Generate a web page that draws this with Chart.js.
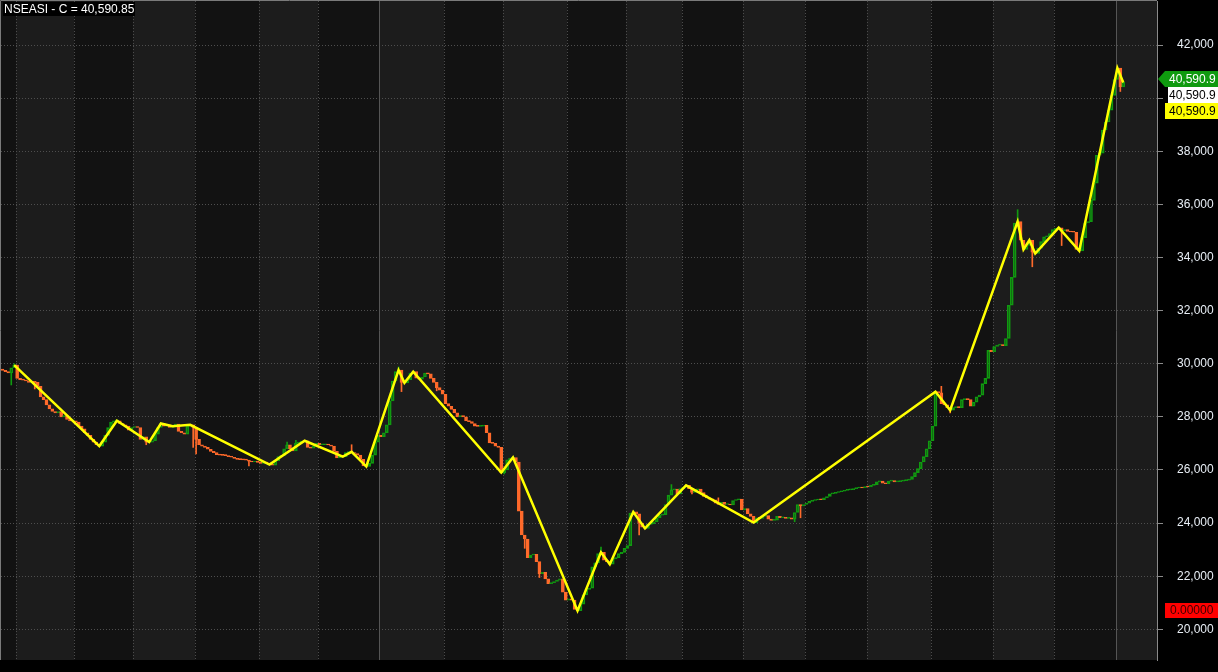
<!DOCTYPE html>
<html>
<head>
<meta charset="utf-8">
<script src="https://cdn.jsdelivr.net/npm/chart.js@4.4.1/dist/chart.umd.min.js"></script>
<style>
  html, body { margin: 0; padding: 0; background: #000; }
</style>
</head>
<body>
<canvas id="graficoNSEASI" width="1218" height="672"></canvas>
<script>
const symbolTitle = 'NSEASI - C = 40,590.85';
const lastPriceLabel = '40,590.9';
const indicatorLabel = '0.00000';

const firstOpen = 29800;
// daily closes, one row = 10 sessions
const closes = [
  29750, 29700, 29650, 29850, 29950, 29450, 29400, 29380, 29350, 29300,
  29320, 29300, 29150, 28750, 28650, 28450, 28300, 28200, 28150, 28200,
  28000, 28050, 27900, 27850, 27850, 27800, 27650, 27550, 27400, 27300,
  27150, 27050, 26950, 26900, 27050, 27300, 27600, 27800, 27850, 27850,
  27750, 27700, 27650, 27500, 27600, 27620, 27600, 27150, 27250, 27050,
  27050, 27100, 27350, 27600, 27750, 27650, 27700, 27600, 27650, 27730,
  27450, 27400, 27350, 27650, 27700, 27600, 27150, 26950, 26900, 26850,
  26780, 26700, 26650, 26580, 26560, 26550, 26540, 26500, 26480, 26430,
  26400, 26390, 26380, 26370, 26330, 26300, 26330, 26280, 26250, 26300,
  26260, 26200, 26180, 26350, 26500, 26550, 26800, 26950, 26800, 26720,
  27000, 27050, 27080, 27100, 26850, 26820, 26900, 27000, 26950, 26950,
  26960, 26940, 26900, 26700, 26450, 26550, 26500, 26650, 26680, 26650,
  26620, 26560, 26400, 26150, 26130, 26250, 26560, 27050, 27300, 27250,
  27400, 27700, 28600, 29350, 29700, 29760, 29300, 29280, 29400, 29650,
  29700, 29460, 29420, 29500, 29650, 29620, 29450, 29300, 29100, 29000,
  28850, 28500, 28400, 28280, 28150, 28000, 28050, 28000, 27850, 27820,
  27750, 27650, 27640, 27650, 27680, 27400, 27020, 27000, 26900, 26850,
  25900, 26000, 26380, 26450, 26470, 26300, 24450, 23550, 23400, 22700,
  22800, 22820, 22550, 22100, 22150, 21900, 21720, 21760, 21800, 21850,
  21900, 21400, 21100, 21150, 21100, 20750, 20700, 20950, 21300, 21500,
  21550, 22350, 22500, 22850, 22900, 22600, 22550, 22450, 22650, 22700,
  22850, 22900, 23050, 23150, 24380, 24420, 24350, 24000, 23850, 23800,
  23950, 23980, 24050, 24200, 24300, 24320, 24700, 25050, 25250, 25280,
  25100, 25300, 25350, 25420, 25300, 25150, 25250, 25280, 25150, 25000,
  24950, 24900, 24880, 24750, 24700, 24780, 24700, 24720, 24680, 24850,
  24880, 24900, 24500, 24550, 24350, 24250, 24020, 24200, 24180, 24250,
  24280, 24150, 24100, 24110, 24250, 24200, 24220, 24180, 24200, 24150,
  24400, 24700, 24650, 24700, 24750, 24820, 24850, 24870, 24900, 24880,
  24950, 25000, 25100, 25120, 25150, 25180, 25200, 25230, 25250, 25260,
  25300, 25320, 25350, 25320, 25370, 25360, 25420, 25450, 25550, 25580,
  25500, 25480, 25580, 25600, 25550, 25560, 25580, 25600, 25620, 25640,
  25750, 25900, 26050, 26300, 26500, 26800, 27100, 27650, 28950, 28900,
  28500, 28450, 28350, 28250, 28350, 28380, 28350, 28650, 28680, 28650,
  28400, 28550, 28750, 28820, 29250, 29450, 30500, 30450, 30650, 30700,
  30720, 30680, 30950, 32200, 33250, 35300, 35350, 34650, 34300, 34450,
  34650, 34200, 34150, 34350, 34600, 34780, 34820, 34900, 35050, 35100,
  35120, 35000, 35050, 34980, 34960, 34950, 34300, 34250, 34750, 35300,
  35350, 36150, 36800, 37850, 37930, 38800, 39100, 39550, 40100, 40700,
  41130, 40420, 40590.85
];

// sessions with a visible shadow beyond the body
const wickHighs = { 4: 30000, 97: 27050, 100: 27120, 119: 26950, 135: 29880, 204: 23100, 228: 25450, 240: 25050, 244: 24950, 320: 29150, 346: 35800 };
const wickLows = { 3: 29200, 11: 29050, 49: 26950, 65: 26850, 66: 26600, 84: 26150, 136: 28950, 148: 28980, 171: 25850, 178: 23050, 183: 21950, 217: 23550, 235: 25100, 270: 24050, 272: 24200, 323: 28150, 351: 33650, 361: 34450, 381: 40250 };

// zigzag pivots: [session, price]
const zigzagPivots = [
  [4, 29950], [33, 26900], [39, 27850], [50, 27050], [54, 27750], [58, 27650], [64, 27700],
  [91, 26200], [103, 27100], [116, 26500], [119, 26680], [124, 26130], [135, 29760], [137, 29280],
  [140, 29700], [170, 25900], [174, 26470], [196, 20700], [204, 22900], [207, 22450], [215, 24420],
  [219, 23800], [233, 25420], [256, 24020], [318, 28950], [323, 28250], [346, 35350], [348, 34300],
  [350, 34650], [352, 34150], [360, 35120], [367, 34250], [380, 41130], [382, 40590.85]
];

const monthStarts = [5, 25, 45, 66, 88, 108, 129, 151, 171, 193, 213, 232, 253, 274, 295, 317, 338, 359, 380];
const yearStarts = [129, 380];
const yTicks = [20000, 22000, 24000, 26000, 28000, 30000, 32000, 34000, 36000, 38000, 40000, 42000];
const emptySlots = 11;

const verde = '#109a10';
const laranja = '#ff6a2b';

window.onload = function () {

    const canvas = document.getElementById('graficoNSEASI');

    const opens = closes.map((c, i) => i === 0 ? firstOpen : closes[i - 1]);
    const labels = closes.map((_, i) => i);
    for (let k = 0; k < emptySlots; k++) labels.push(closes.length + k);

    const up = closes.map((c, i) => c >= opens[i]);
    const cores = up.map(u => u ? verde : laranja);
    const corpos = closes.map((c, i) => [opens[i], c]);
    const sombrasAltas = closes.map((c, i) => wickHighs[i] !== undefined ? [Math.max(opens[i], c), wickHighs[i]] : null);
    const sombrasBaixas = closes.map((c, i) => wickLows[i] !== undefined ? [wickLows[i], Math.min(opens[i], c)] : null);

    const zigzag = labels.map(() => null);
    zigzagPivots.forEach(([i, v]) => { zigzag[i] = v; });

    const fundoMeses = {
        id: 'fundoMeses',
        beforeDraw(chart) {
            const { ctx, chartArea, scales } = chart;
            const slot = (chartArea.right - chartArea.left) / labels.length;
            const borda = idx => Math.round(scales.x.getPixelForValue(idx) - slot / 2);
            const limites = [chartArea.left].concat(monthStarts.map(borda), [chartArea.right]);
            ctx.save();
            for (let k = 0; k < limites.length - 1; k++) {
                ctx.fillStyle = k % 2 === 0 ? '#121212' : '#1c1c1c';
                ctx.fillRect(limites[k], chartArea.top, limites[k + 1] - limites[k], chartArea.bottom - chartArea.top);
            }
            ctx.restore();
        },
        beforeDatasetsDraw(chart) {
            const { ctx, chartArea, scales } = chart;
            const slot = (chartArea.right - chartArea.left) / labels.length;
            ctx.save();
            ctx.lineWidth = 1;
            monthStarts.forEach(idx => {
                const x = Math.round(scales.x.getPixelForValue(idx) - slot / 2) + 0.5;
                const ano = yearStarts.includes(idx);
                ctx.strokeStyle = ano ? '#555555' : '#4c4c4c';
                ctx.setLineDash(ano ? [] : [1, 2]);
                ctx.beginPath();
                ctx.moveTo(x, chartArea.top);
                ctx.lineTo(x, chartArea.bottom);
                ctx.stroke();
            });
            ctx.restore();
        },
        afterDraw(chart) {
            const { ctx, chartArea, scales } = chart;
            ctx.save();
            // frame left and top
            ctx.strokeStyle = '#7a7a7a';
            ctx.lineWidth = 1;
            ctx.beginPath();
            ctx.moveTo(0.5, chartArea.bottom);
            ctx.lineTo(0.5, 0.5);
            ctx.lineTo(chartArea.right, 0.5);
            ctx.stroke();

            // title
            ctx.font = '12px "Liberation Sans", Arial, sans-serif';
            ctx.textBaseline = 'middle';
            ctx.fillStyle = '#000';
            ctx.fillRect(3, 2, 132, 14);
            ctx.fillStyle = '#ffffff';
            ctx.textAlign = 'left';
            ctx.fillText(symbolTitle, 4, 9.5);

            // price labels on the axis
            const y0 = scales.y.getPixelForValue(closes[closes.length - 1]);
            const xa = chartArea.right + 8;
            const xb = chart.width;
            const gy = Math.round(y0 - 3);
            ctx.fillStyle = '#0f9a0f';
            ctx.beginPath();
            ctx.moveTo(chartArea.right + 1, gy);
            ctx.lineTo(xa, gy - 8);
            ctx.lineTo(xb, gy - 8);
            ctx.lineTo(xb, gy + 8);
            ctx.lineTo(xa, gy + 8);
            ctx.closePath();
            ctx.fill();
            ctx.fillStyle = '#ffffff';
            ctx.fillText(lastPriceLabel, xa + 4, gy + 0.5);

            const wy = gy + 16;
            ctx.fillStyle = '#ffffff';
            ctx.fillRect(xa + 3, wy - 8, xb - xa - 3, 16);
            ctx.fillStyle = '#000000';
            ctx.fillText(lastPriceLabel, xa + 4, wy + 0.5);

            const yy = wy + 16;
            ctx.fillStyle = '#ffff00';
            ctx.fillRect(xa, yy - 8, xb - xa, 16);
            ctx.fillStyle = '#000000';
            ctx.fillText(lastPriceLabel, xa + 4, yy + 0.5);

            const ry = chartArea.bottom - 50;
            ctx.fillStyle = '#ff0000';
            ctx.fillRect(xa, ry - 7, xb - xa, 15);
            ctx.fillStyle = '#3a0000';
            ctx.fillText(indicatorLabel, xa + 5, ry + 0.5);
            ctx.restore();
        }
    };

    Chart.defaults.font.family = '"Liberation Sans", Arial, sans-serif';
    Chart.defaults.font.size = 12;

    new Chart(canvas, {
        type: 'bar',
        data: {
            labels: labels,
            datasets: [
                {
                    type: 'line',
                    data: zigzag,
                    borderColor: '#ffff00',
                    borderWidth: 2.5,
                    pointRadius: 0,
                    spanGaps: true,
                    tension: 0,
                    order: 0
                },
                {
                    data: corpos,
                    backgroundColor: up.map(u => u ? 'rgba(0,0,0,0)' : laranja),
                    borderColor: cores,
                    borderWidth: 1,
                    borderSkipped: false,
                    minBarLength: 1,
                    grouped: false,
                    barThickness: 3,
                    order: 1
                },
                {
                    data: sombrasAltas,
                    backgroundColor: cores,
                    barThickness: 1,
                    grouped: false,
                    order: 2
                },
                {
                    data: sombrasBaixas,
                    backgroundColor: cores,
                    barThickness: 1,
                    grouped: false,
                    order: 2
                }
            ]
        },
        options: {
            responsive: false,
            animation: false,
            devicePixelRatio: 1,
            layout: { padding: { left: 1, top: 1, right: 0, bottom: 12 } },
            plugins: { legend: { display: false }, tooltip: { enabled: false } },
            scales: {
                x: { display: false, offset: true },
                y: {
                    position: 'right',
                    min: 18845,
                    max: 43657,
                    afterBuildTicks: s => { s.ticks = yTicks.map(v => ({ value: v })); },
                    afterFit: s => {
                        s.width = 61;
                        s.paddingTop = 0;
                        s.paddingBottom = 0;
                    },
                    grid: {
                        color: '#4e4e4e',
                        lineWidth: 1,
                        tickLength: 6,
                        tickColor: '#8a8a8a',
                        tickBorderDash: []
                    },
                    border: { display: true, color: '#8a8a8a', dash: [1, 2] },
                    ticks: {
                        color: '#e8eef5',
                        padding: 14,
                        font: { size: 12 },
                        callback: v => v.toLocaleString('en-US')
                    }
                }
            }
        },
        plugins: [fundoMeses]
    });

}
</script>
</body>
</html>
